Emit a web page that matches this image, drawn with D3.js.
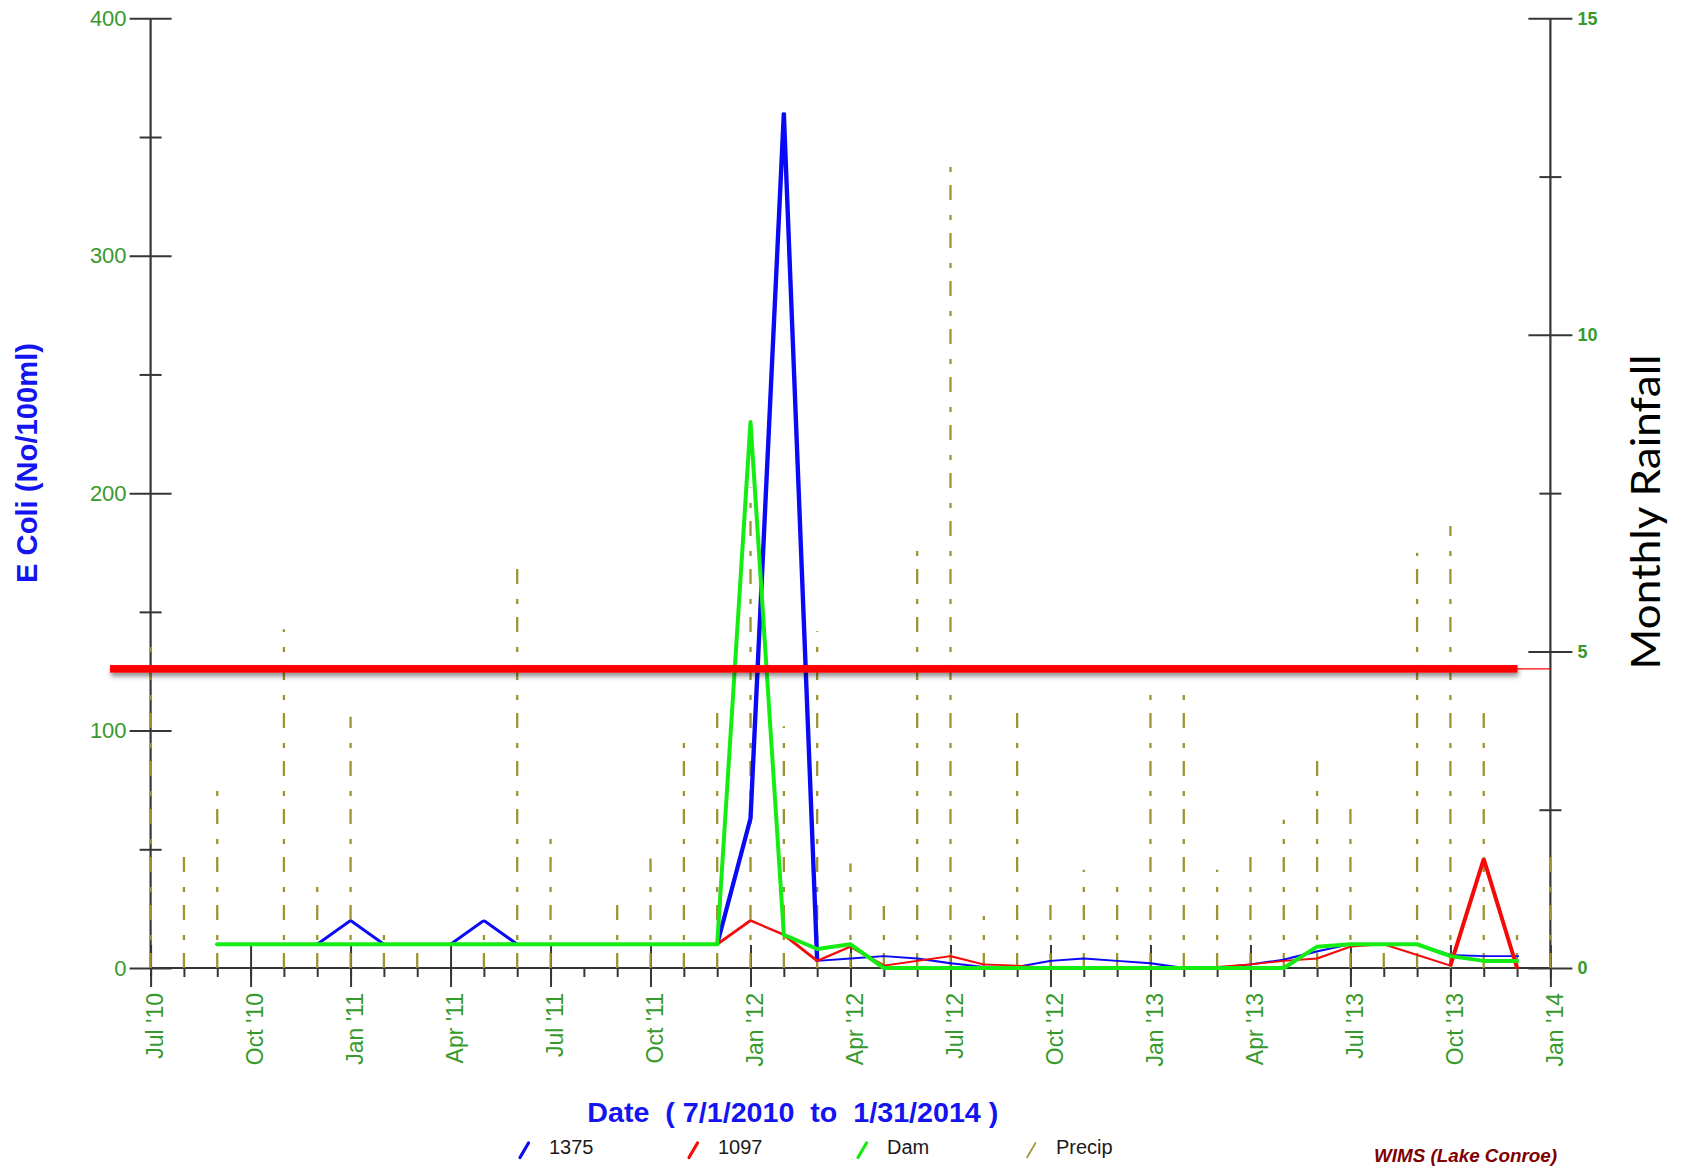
<!DOCTYPE html>
<html>
<head>
<meta charset="utf-8">
<script src="https://cdn.jsdelivr.net/npm/d3@7"></script>
<style>
  html, body { margin: 0; padding: 0; background: #fff; }
  svg { display: block; }
</style>
</head>
<body>
<svg id="chart" width="1687" height="1168">
  <defs>
    <filter id="barShadow" filterUnits="userSpaceOnUse" x="90" y="640" width="1460" height="60">
      <feDropShadow dx="1" dy="3.5" stdDeviation="2.5" flood-color="#000" flood-opacity="0.45"/>
    </filter>
  </defs>
</svg>
<script>
// Month index: 0 = Jul 2010 ... 42 = Jan 2014
const months = d3.range(0, 43);
const quarterTicks = d3.range(0, 43, 3);
const quarterLabels = ["Jul '10", "Oct '10", "Jan '11", "Apr '11", "Jul '11", "Oct '11",
  "Jan '12", "Apr '12", "Jul '12", "Oct '12", "Jan '13", "Apr '13", "Jul '13", "Oct '13", "Jan '14"];

// Monthly rainfall (inches), right axis
const precip = [5.1, 1.76, 2.8, 0, 5.35, 1.3, 3.97, 0.55, 0.26, 0, 0.7, 6.34, 2.05, 0, 1.01,
  1.73, 3.79, 4.04, 7.59, 3.82, 5.32, 1.65, 0.98, 6.62, 12.66, 0.82, 4.08, 1.01, 1.55, 1.3,
  4.33, 4.33, 1.55, 1.76, 2.34, 3.3, 2.51, 0.26, 6.56, 6.98, 4.08, 0.55, 1.76];

// E. coli (No/100ml) by station, left axis; null = no sample
const site1375 = [null, null, 10, 10, 10, 10, 20, 10, 10, 10, 20, 10, 10, 10, 10, 10, 10, 10,
  63, 360, 3, 4, 5, 4, 2, 0.5, 0.5, 3, 4, 3, 2, 0, 0, 1.5, 3.5, 7, 10, 10, 10, 5.5, 5, 5, null];
const site1097 = [null, null, null, null, null, null, null, null, null, null, null, null, null,
  null, null, null, null, 10, 20, 14, 3, 9, 1, 3, 5, 1.5, 1, 0, 0, 0, 0, 0, 0.5, 1.5, 3, 4, 9,
  10, null, 1, 46, 0, null];
const siteDam = [null, null, 10, 10, 10, 10, 10, 10, 10, 10, 10, 10, 10, 10, 10, 10, 10, 10,
  230, 14, 8, 10, 0, 0, 0, 0, 0, 0, 0, 0, 0, 0, 0, 0, 0, 9, 10, 10, 10, 5, 3, 3, null];

const threshold = 126;

const legendNames = ["1375", "1097", "Dam", "Precip"];
const legendColors = ["#0a0af5", "#f50a0a", "#14ec14", "#9c9433"];

const svg = d3.select("#chart");
const x0 = 150.6, x1 = 1550.4, yTop = 18.3, yBot = 968;

const x = d3.scaleLinear().domain([0, 42]).range([x0, x1]);
const yL = d3.scaleLinear().domain([0, 400]).range([yBot, yTop]);
const yR = d3.scaleLinear().domain([0, 15]).range([yBot, yTop]);

const axisColor = "#363636";
const tickGreen = "#389a2c";
const sans = "'Liberation Sans', Arial, sans-serif";

function styleAxis(g) {
  g.select(".domain").remove();
  g.selectAll(".tick line").attr("stroke", axisColor).attr("stroke-width", 2);
  g.attr("font-family", sans);
}

// ---- bottom axis: monthly minor ticks + quarterly labelled ticks
svg.append("g").attr("transform", `translate(0,${yBot})`)
  .call(d3.axisBottom(x).tickValues(months).tickSize(9).tickFormat(""))
  .call(styleAxis);

const gxMajor = svg.append("g").attr("transform", `translate(0,${yBot})`)
  .call(d3.axisBottom(x).tickValues(quarterTicks).tickSize(19).tickFormat((d, i) => quarterLabels[i]))
  .call(styleAxis);
gxMajor.selectAll(".tick line").attr("y1", -23);
gxMajor.selectAll(".tick text")
  .attr("x", 0).attr("y", 0).attr("dy", null)
  .attr("transform", "translate(12,25) rotate(-90)")
  .attr("text-anchor", "end")
  .attr("font-size", 23)
  .attr("fill", tickGreen);

// ---- left axis (E coli)
const gl = svg.append("g").attr("transform", `translate(${x0},0)`)
  .call(d3.axisLeft(yL).tickValues([0, 100, 200, 300, 400]).tickSize(21).tickPadding(3))
  .call(styleAxis);
gl.selectAll(".tick line").attr("x1", 21);
gl.selectAll(".tick text").attr("font-size", 22).attr("fill", tickGreen);

const glMinor = svg.append("g").attr("transform", `translate(${x0},0)`)
  .call(d3.axisLeft(yL).tickValues([50, 150, 250, 350]).tickSize(11).tickFormat(""))
  .call(styleAxis);
glMinor.selectAll(".tick line").attr("x1", 11);

// ---- right axis (rainfall)
const gr = svg.append("g").attr("transform", `translate(${x1},0)`)
  .call(d3.axisRight(yR).tickValues([0, 5, 10, 15]).tickSize(22).tickPadding(5))
  .call(styleAxis);
gr.selectAll(".tick line").attr("x1", -22);
gr.selectAll(".tick text").attr("font-size", 18).attr("font-weight", "bold").attr("fill", tickGreen);

const grMinor = svg.append("g").attr("transform", `translate(${x1},0)`)
  .call(d3.axisRight(yR).tickValues([2.5, 7.5, 12.5]).tickSize(11).tickFormat(""))
  .call(styleAxis);
grMinor.selectAll(".tick line").attr("x1", -11);

// axis lines
const frame = svg.append("g").attr("stroke", axisColor).attr("stroke-width", 2.2);
frame.append("line").attr("x1", x(0)).attr("x2", x(0)).attr("y1", yL(400)).attr("y2", yL(0));
frame.append("line").attr("x1", x(42)).attr("x2", x(42)).attr("y1", yR(15)).attr("y2", yR(0));
frame.append("line").attr("x1", x(0)).attr("x2", x(42)).attr("y1", yL(0)).attr("y2", yL(0));

// ---- rainfall drop lines
svg.append("g")
  .selectAll("line")
  .data(precip.map((v, i) => ({ m: i, v })).filter(d => d.v > 0))
  .join("line")
  .attr("x1", d => x(d.m)).attr("x2", d => x(d.m))
  .attr("y1", yR(0)).attr("y2", d => yR(d.v))
  .attr("stroke", legendColors[3])
  .attr("stroke-width", 2.3)
  .attr("stroke-dasharray", "15,13,5,15");

// ---- E coli series; blue/red are drawn in a horizontally stretched frame so
// steep segments render heavier than flat ones
function drawSeries(vals, color, width, stretch) {
  const pts = vals.map((v, i) => ({ m: i, v })).filter(d => d.v != null);
  const line = d3.line().x(d => x(d.m) / stretch).y(d => yL(d.v));
  svg.append("path")
    .attr("d", line(pts))
    .attr("transform", `scale(${stretch},1)`)
    .attr("fill", "none")
    .attr("stroke", color)
    .attr("stroke-width", width)
    .attr("stroke-linejoin", "round")
    .attr("stroke-linecap", "round");
}
drawSeries(site1375, legendColors[0], 1.9, 2.3);
drawSeries(site1097, legendColors[1], 1.8, 2.3);
drawSeries(siteDam, legendColors[2], 4, 1);

// ---- contact-recreation standard line
svg.append("line")
  .attr("x1", x(0)).attr("x2", x(42))
  .attr("y1", yL(threshold)).attr("y2", yL(threshold))
  .attr("stroke", "#ff0000").attr("stroke-width", 1.3);
svg.append("rect")
  .attr("x", 110).attr("width", 1407.5)
  .attr("y", yL(threshold) - 3.8).attr("height", 7.6)
  .attr("fill", "#ff0000")
  .attr("filter", "url(#barShadow)");

// ---- titles
svg.append("text")
  .attr("transform", "translate(36.5,463) rotate(-90)")
  .attr("text-anchor", "middle")
  .attr("font-family", sans).attr("font-weight", "bold").attr("font-size", 29)
  .attr("fill", "#1414f0")
  .attr("textLength", 240).attr("lengthAdjust", "spacingAndGlyphs")
  .text("E Coli (No/100ml)");

svg.append("text")
  .attr("x", 792.8).attr("y", 1121.7)
  .attr("text-anchor", "middle")
  .attr("font-family", sans).attr("font-weight", "bold").attr("font-size", 28)
  .attr("fill", "#1414f0")
  .style("white-space", "pre")
  .attr("textLength", 411).attr("lengthAdjust", "spacingAndGlyphs")
  .text("Date  ( 7/1/2010  to  1/31/2014 )");

svg.append("text")
  .attr("transform", "translate(1660,512) rotate(-90)")
  .attr("text-anchor", "middle")
  .attr("font-family", "Lato, 'Open Sans', sans-serif").attr("font-size", 40)
  .attr("fill", "#000")
  .attr("textLength", 315).attr("lengthAdjust", "spacingAndGlyphs")
  .text("Monthly Rainfall");

svg.append("text")
  .attr("x", 1374).attr("y", 1162)
  .attr("font-family", sans).attr("font-weight", "bold").attr("font-style", "italic")
  .attr("font-size", 18).attr("fill", "#800000")
  .attr("textLength", 183).attr("lengthAdjust", "spacingAndGlyphs")
  .text("WIMS (Lake Conroe)");

// ---- legend
const legend = svg.append("g").attr("font-family", sans);
const item = legend.selectAll("g")
  .data(legendNames.map((name, i) => ({ name, color: legendColors[i], i })))
  .join("g")
  .attr("transform", d => `translate(${520 + d.i * 169},0)`);
item.append("line")
  .attr("x1", 0).attr("y1", 1157.5).attr("x2", 8.5).attr("y2", 1143)
  .attr("stroke", d => d.color)
  .attr("stroke-width", d => d.i === 3 ? 1.6 : 3.2)
  .attr("stroke-linecap", "round");
item.append("text")
  .attr("x", 29).attr("y", 1153.5)
  .attr("font-size", 20).attr("fill", "#1a1a1a")
  .text(d => d.name);
</script>
</body>
</html>
